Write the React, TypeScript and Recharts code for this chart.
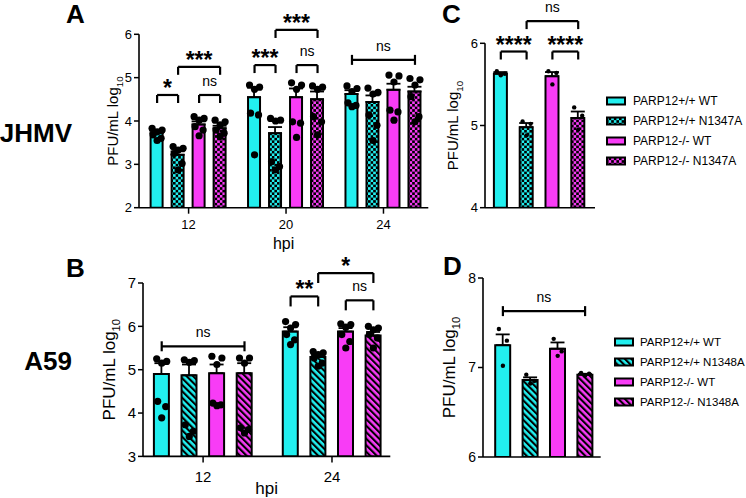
import type { ReactElement } from 'react';
import { Bar, Cell, ComposedChart, ErrorBar, ReferenceLine, Scatter, XAxis, YAxis } from 'recharts';

const CYAN = '#22efef';
const MAGENTA = '#f83cf6';
const FONT = 'Arial, "Liberation Sans", Helvetica, sans-serif';

const JHMV_STRAINS = ['PARP12+/+ WT', 'PARP12+/+ N1347A', 'PARP12-/- WT', 'PARP12-/- N1347A'];
const A59_STRAINS = ['PARP12+/+ WT', 'PARP12+/+ N1348A', 'PARP12-/- WT', 'PARP12-/- N1348A'];

// A: JHMV time course (hpi groups x strain)
const A_HPI = ['12', '20', '24'];
const A_MEAN = [
  [3.72, 3.22, 3.92, 3.83],
  [4.55, 3.72, 4.55, 4.5],
  [4.62, 4.44, 4.72, 4.68],
];
const A_SEM = [
  [0.05, 0.08, 0.07, 0.06],
  [0.22, 0.14, 0.2, 0.18],
  [0.09, 0.15, 0.14, 0.11],
];
const A_PTS = [
  [
    [3.83, 3.79, 3.75, 3.68, 3.6, 3.55],
    [3.41, 3.37, 3.33, 3.25, 3.02, 2.87],
    [4.1, 4.06, 4.02, 3.87, 3.79, 3.66],
    [4.02, 3.98, 3.91, 3.79, 3.72, 3.64],
  ],
  [
    [4.83, 4.78, 4.73, 4.18, 4.14, 3.22],
    [4.06, 4.02, 4.0, 3.06, 2.95, 2.87],
    [4.88, 4.83, 4.73, 3.98, 3.95, 3.62],
    [4.81, 4.78, 4.73, 4.1, 3.98, 3.68],
  ],
  [
    [4.81, 4.75, 4.68, 4.42, 4.36, 4.33],
    [4.76, 4.66, 4.62, 4.14, 3.9, 3.55],
    [5.06, 5.04, 4.9, 4.25, 4.21, 4.02],
    [4.98, 4.95, 4.83, 4.56, 4.1, 3.98],
  ],
];

// B: A59 time course
const B_HPI = ['12', '24'];
const B_MEAN = [
  [4.9, 4.87, 4.92, 4.92],
  [5.88, 5.29, 5.88, 5.79],
];
const B_SEM = [
  [0.25, 0.25, 0.2, 0.23],
  [0.1, 0.05, 0.08, 0.08],
];
const B_PTS = [
  [
    [5.25, 5.19, 5.15, 4.27, 4.15, 3.89],
    [5.23, 5.21, 5.17, 3.73, 3.58, 3.46],
    [5.31, 5.27, 5.12, 4.23, 4.19, 4.17],
    [5.27, 5.27, 5.15, 3.66, 3.62, 3.54],
  ],
  [
    [6.11, 6.04, 5.96, 5.81, 5.69, 5.58],
    [5.42, 5.39, 5.35, 5.27, 5.15, 5.08],
    [6.06, 6.04, 5.98, 5.81, 5.65, 5.5],
    [6.0, 5.96, 5.92, 5.81, 5.73, 5.5],
  ],
];

// C, D: single time point
const C_MEAN = [[5.63, 4.98, 5.6, 5.09]];
const C_SEM = [[0.02, 0.05, 0.05, 0.08]];
const C_PTS = [[[5.66, 5.63, 5.61], [5.05, 5.02, 4.88], [5.66, 5.64, 5.5], [5.22, 5.12, 4.95]]];

const D_MEAN = [[7.25, 6.86, 7.21, 6.92]];
const D_SEM = [[0.12, 0.03, 0.07, 0.01]];
const D_PTS = [[[7.43, 7.3, 7.02], [6.92, 6.85, 6.82], [7.32, 7.18, 7.13], [6.94, 6.93, 6.91]]];

type Ref = [number, number]; // [group, strain]
interface Bracket {
  from: Ref;
  to: Ref;
  y: number;
  text: string;
  span?: boolean; // plain line with end caps instead of a bracket
}

const A_BRACKETS: Bracket[] = [
  { from: [0, 0], to: [0, 1], y: 4.6, text: '*' },
  { from: [0, 1], to: [0, 3], y: 5.25, text: '***' },
  { from: [0, 2], to: [0, 3], y: 4.6, text: 'ns' },
  { from: [1, 0], to: [1, 1], y: 5.29, text: '***' },
  { from: [1, 1], to: [1, 3], y: 6.1, text: '***' },
  { from: [1, 2], to: [1, 3], y: 5.29, text: 'ns' },
  { from: [2, 0], to: [2, 3], y: 5.41, text: 'ns', span: true },
];
const B_BRACKETS: Bracket[] = [
  { from: [0, 0], to: [0, 3], y: 5.54, text: 'ns', span: true },
  { from: [1, 0], to: [1, 1], y: 6.69, text: '**' },
  { from: [1, 1], to: [1, 3], y: 7.23, text: '*' },
  { from: [1, 2], to: [1, 3], y: 6.6, text: 'ns' },
];
const C_BRACKETS: Bracket[] = [
  { from: [0, 0], to: [0, 1], y: 5.9, text: '****' },
  { from: [0, 2], to: [0, 3], y: 5.9, text: '****' },
  { from: [0, 1], to: [0, 3], y: 6.27, text: 'ns' },
];
const D_BRACKETS: Bracket[] = [{ from: [0, 0], to: [0, 3], y: 7.63, text: 'ns', span: true }];

type Mutant = 'check' | 'hatch';

function fillFor(strain: number, mutant: Mutant) {
  const base = strain < 2 ? 'cy' : 'mg';
  if (strain % 2 === 0) return strain < 2 ? CYAN : MAGENTA;
  return `url(#${mutant}-${base})`;
}

const JITTER6 = [-5, 5, 0, -4, 4, 0];
const JITTER3 = [-4, 4, 0];

const YW = 70;
const RIGHT = 12;
const XH = 46;

interface PanelProps {
  groups: string[];
  means: number[][];
  sems: number[][];
  points: number[][][];
  brackets: Bracket[];
  mutant: Mutant;
  yDomain: [number, number];
  yTicks: number[];
  plot: { x0: number; x1: number; y0: number; y1: number };
  firstCenter: number; // page x of the first group centre
  step: number; // px between neighbouring bars
  groupStep: number; // in bar units
  barSize: number;
  dotR: number;
  tickFont: number;
  yTickFont: number;
  xTickMargin: number;
  showXTicks: boolean;
  hpiFont: number;
  hpiDy: number;
  labelFont: number;
  labelDx: number;
  legPx: number;
}

function BracketText({ viewBox, text }: { viewBox?: any; text: string }) {
  if (!viewBox) return null;
  const stars = text.includes('*');
  return (
    <text
      x={viewBox.x + viewBox.width / 2}
      y={viewBox.y + (stars ? 1 : -9)}
      textAnchor="middle"
      fontFamily={FONT}
      fontSize={stars ? 23 : 14}
      fontWeight={stars ? 700 : 400}
      fill="#000"
    >
      {text}
    </text>
  );
}

function Panel(p: PanelProps) {
  const { plot, step, groupStep } = p;
  const top = Math.min(45, plot.y0);
  const width = plot.x1 - plot.x0 + YW + RIGHT;
  const height = plot.y1 - plot.y0 + top + XH;
  const ppu = (plot.y1 - plot.y0) / (p.yDomain[1] - p.yDomain[0]);
  const lo = -(p.firstCenter - plot.x0) / step;
  const hi = lo + (plot.x1 - plot.x0) / step;
  const posOf = ([g, s]: Ref) => g * groupStep + s - 1.5;

  const nRep = Math.max(...p.points.flat().map((a) => a.length));
  const jitter = nRep > 3 ? JITTER6 : JITTER3;
  const rows = p.means.flatMap((grp, g) =>
    grp.map((m, s) => {
      const row: Record<string, any> = { pos: posOf([g, s]), strain: s, mean: m, err: [0, p.sems[g][s]] };
      p.points[g][s].forEach((v, r) => {
        row[`d${r}`] = v;
      });
      return row;
    }),
  );
  const centers = p.groups.map((_, g) => g * groupStep);

  const lineProps = { stroke: '#000', strokeWidth: 2.2, ifOverflow: 'visible' as const };
  const refLines: ReactElement[] = p.brackets.flatMap((b, i) => {
    const xa = posOf(b.from);
    const xb = posOf(b.to);
    const out = [
      <ReferenceLine
        key={`h${i}`}
        segment={[{ x: xa, y: b.y }, { x: xb, y: b.y }]}
        {...lineProps}
        label={(lp: any) => <BracketText viewBox={lp.viewBox} text={b.text} />}
      />,
    ];
    if (b.span) {
      const cap = 5 / ppu;
      [xa, xb].forEach((x, k) =>
        out.push(
          <ReferenceLine key={`c${i}-${k}`} segment={[{ x, y: b.y - cap }, { x, y: b.y + cap }]} {...lineProps} />,
        ),
      );
    } else {
      const leg = p.legPx / ppu;
      [xa, xb].forEach((x, k) =>
        out.push(
          <ReferenceLine key={`l${i}-${k}`} segment={[{ x, y: b.y }, { x, y: b.y - leg }]} {...lineProps} />,
        ),
      );
    }
    return out;
  });

  return (
    <div style={{ position: 'absolute', left: plot.x0 - YW, top: plot.y0 - top }}>
      <ComposedChart width={width} height={height} data={rows} margin={{ top, right: RIGHT, left: 0, bottom: 0 }}>
        <XAxis
          type="number"
          dataKey="pos"
          domain={[lo, hi]}
          allowDataOverflow
          ticks={centers}
          interval={0}
          tickFormatter={(v: number) => p.groups[Math.round(v / groupStep)] ?? ''}
          tick={p.showXTicks ? { fontSize: p.tickFont, fill: '#000', fontFamily: FONT } : false}
          tickLine={p.showXTicks ? { stroke: '#000', strokeWidth: 1.5 } : false}
          tickSize={6}
          tickMargin={p.xTickMargin}
          axisLine={{ stroke: '#000', strokeWidth: 1.6 }}
          height={XH}
          label={
            p.showXTicks
              ? (lp: any) => (
                  <text
                    x={lp.viewBox.x + lp.viewBox.width / 2}
                    y={lp.viewBox.y + p.hpiDy}
                    textAnchor="middle"
                    fontFamily={FONT}
                    fontSize={p.hpiFont}
                    fill="#000"
                  >
                    hpi
                  </text>
                )
              : undefined
          }
        />
        <YAxis
          type="number"
          domain={p.yDomain}
          allowDataOverflow
          ticks={p.yTicks}
          interval={0}
          width={YW}
          tick={{ fontSize: p.yTickFont, fill: '#000', fontFamily: FONT }}
          tickLine={{ stroke: '#000', strokeWidth: 1.5 }}
          tickSize={5}
          tickMargin={2}
          axisLine={{ stroke: '#000', strokeWidth: 1.6 }}
          label={(lp: any) => {
            const vb = lp.viewBox;
            const bx = vb.x + vb.width - p.labelDx;
            const cy = vb.y + vb.height / 2;
            return (
              <text
                transform={`translate(${bx},${cy}) rotate(-90)`}
                textAnchor="middle"
                fontFamily={FONT}
                fontSize={p.labelFont}
                fill="#000"
              >
                PFU/mL log
                <tspan fontSize={p.labelFont * 0.66} dy={p.labelFont * 0.3}>
                  10
                </tspan>
              </text>
            );
          }}
        />
        <Bar dataKey="mean" barSize={p.barSize} stroke="#000" strokeWidth={2} isAnimationActive={false}>
          {rows.map((r, i) => (
            <Cell key={i} fill={fillFor(r.strain, p.mutant)} />
          ))}
          <ErrorBar dataKey="err" width={7} stroke="#000" strokeWidth={1.8} isAnimationActive={false} />
        </Bar>
        {Array.from({ length: nRep }, (_, r) => (
          <Scatter
            key={r}
            dataKey={`d${r}`}
            isAnimationActive={false}
            shape={(sp: any) => <circle cx={sp.cx + jitter[r]} cy={sp.cy} r={p.dotR} fill="#000" />}
          />
        ))}
        {refLines}
      </ComposedChart>
    </div>
  );
}

function Swatch({ fill }: { fill: string }) {
  return (
    <svg width={22} height={12} style={{ display: 'block' }}>
      <rect x={1} y={2.5} width={18} height={7} fill={fill} stroke="#000" strokeWidth={2} />
    </svg>
  );
}

function StrainLegend({
  x,
  y,
  names,
  mutant,
  gap,
  size,
}: {
  x: number;
  y: number;
  names: string[];
  mutant: Mutant;
  gap: number;
  size: number;
}) {
  return (
    <div style={{ position: 'absolute', left: x, top: y, fontFamily: FONT, fontSize: size, color: '#000' }}>
      {names.map((n, i) => (
        <div key={n} style={{ display: 'flex', alignItems: 'center', height: 20 }}>
          <Swatch fill={fillFor(i, mutant)} />
          <span style={{ marginLeft: gap, whiteSpace: 'nowrap' }}>{n}</span>
        </div>
      ))}
    </div>
  );
}

function Patterns() {
  const colors: [string, string][] = [
    ['cy', CYAN],
    ['mg', MAGENTA],
  ];
  return (
    <defs>
      {colors.map(([k, c]) => (
        <pattern key={`c${k}`} id={`check-${k}`} width={5.2} height={5.2} patternUnits="userSpaceOnUse">
          <rect width={5.2} height={5.2} fill={c} />
          <rect width={2.6} height={2.6} fill="#000" />
          <rect x={2.6} y={2.6} width={2.6} height={2.6} fill="#000" />
        </pattern>
      ))}
      {colors.map(([k, c]) => (
        <pattern
          key={`h${k}`}
          id={`hatch-${k}`}
          width={4.6}
          height={4.6}
          patternUnits="userSpaceOnUse"
          patternTransform="rotate(-45)"
        >
          <rect width={4.6} height={4.6} fill={c} />
          <rect width={2.1} height={4.6} fill="#000" />
        </pattern>
      ))}
    </defs>
  );
}

export default function App() {
  const big = { fontFamily: FONT, fontWeight: 700, fontSize: 26, fill: '#000' };
  return (
    <div
      style={{ position: 'absolute', left: 0, top: 0, width: 746, height: 498, overflow: 'hidden', background: '#fff' }}
    >
      <svg width={746} height={498} style={{ position: 'absolute', left: 0, top: 0 }}>
        <Patterns />
        <text x={66} y={23} {...big}>A</text>
        <text x={66} y={277} {...big}>B</text>
        <text x={442} y={23} {...big}>C</text>
        <text x={443} y={275} {...big}>D</text>
        <text x={72} y={141.5} textAnchor="end" {...big}>JHMV</text>
        <text x={72} y={370} textAnchor="end" {...big}>A59</text>
      </svg>
      <Panel
        groups={A_HPI}
        means={A_MEAN}
        sems={A_SEM}
        points={A_PTS}
        brackets={A_BRACKETS}
        mutant="check"
        yDomain={[2, 6]}
        yTicks={[2, 3, 4, 5, 6]}
        plot={{ x0: 139, x1: 428.3, y0: 34.3, y1: 207.7 }}
        firstCenter={188.6}
        step={21}
        groupStep={4.64}
        barSize={12}
        dotR={3.6}
        tickFont={13}
        yTickFont={13}
        xTickMargin={6}
        showXTicks
        hpiFont={16}
        hpiDy={41}
        labelFont={15}
        labelDx={21}
        legPx={8}
      />
      <Panel
        groups={B_HPI}
        means={B_MEAN}
        sems={B_SEM}
        points={B_PTS}
        brackets={B_BRACKETS}
        mutant="hatch"
        yDomain={[3, 7]}
        yTicks={[3, 4, 5, 6, 7]}
        plot={{ x0: 142.7, x1: 390, y0: 283.3, y1: 456.7 }}
        firstCenter={202.8}
        step={27.6}
        groupStep={4.67}
        barSize={15}
        dotR={3.6}
        tickFont={15}
        yTickFont={15}
        xTickMargin={9}
        showXTicks
        hpiFont={17}
        hpiDy={38}
        labelFont={17}
        labelDx={28}
        legPx={10}
      />
      <Panel
        groups={['']}
        means={C_MEAN}
        sems={C_SEM}
        points={C_PTS}
        brackets={C_BRACKETS}
        mutant="check"
        yDomain={[4, 6]}
        yTicks={[4, 5, 6]}
        plot={{ x0: 485, x1: 595, y0: 43.3, y1: 207.7 }}
        firstCenter={539.5}
        step={25.8}
        groupStep={4.64}
        barSize={13}
        dotR={2.2}
        tickFont={13}
        yTickFont={13}
        xTickMargin={6}
        showXTicks={false}
        hpiFont={16}
        hpiDy={40}
        labelFont={15}
        labelDx={27}
        legPx={8}
      />
      <Panel
        groups={['']}
        means={D_MEAN}
        sems={D_SEM}
        points={D_PTS}
        brackets={D_BRACKETS}
        mutant="hatch"
        yDomain={[6, 8]}
        yTicks={[6, 7, 8]}
        plot={{ x0: 483.3, x1: 601, y0: 278.3, y1: 457.3 }}
        firstCenter={544.3}
        step={27.4}
        groupStep={4.67}
        barSize={15}
        dotR={2.2}
        tickFont={14}
        yTickFont={14}
        xTickMargin={6}
        showXTicks={false}
        hpiFont={16}
        hpiDy={40}
        labelFont={17}
        labelDx={28}
        legPx={8}
      />
      <StrainLegend x={606} y={91} names={JHMV_STRAINS} mutant="check" gap={5} size={12} />
      <StrainLegend x={614} y={332} names={A59_STRAINS} mutant="hatch" gap={4} size={11.5} />
    </div>
  );
}
